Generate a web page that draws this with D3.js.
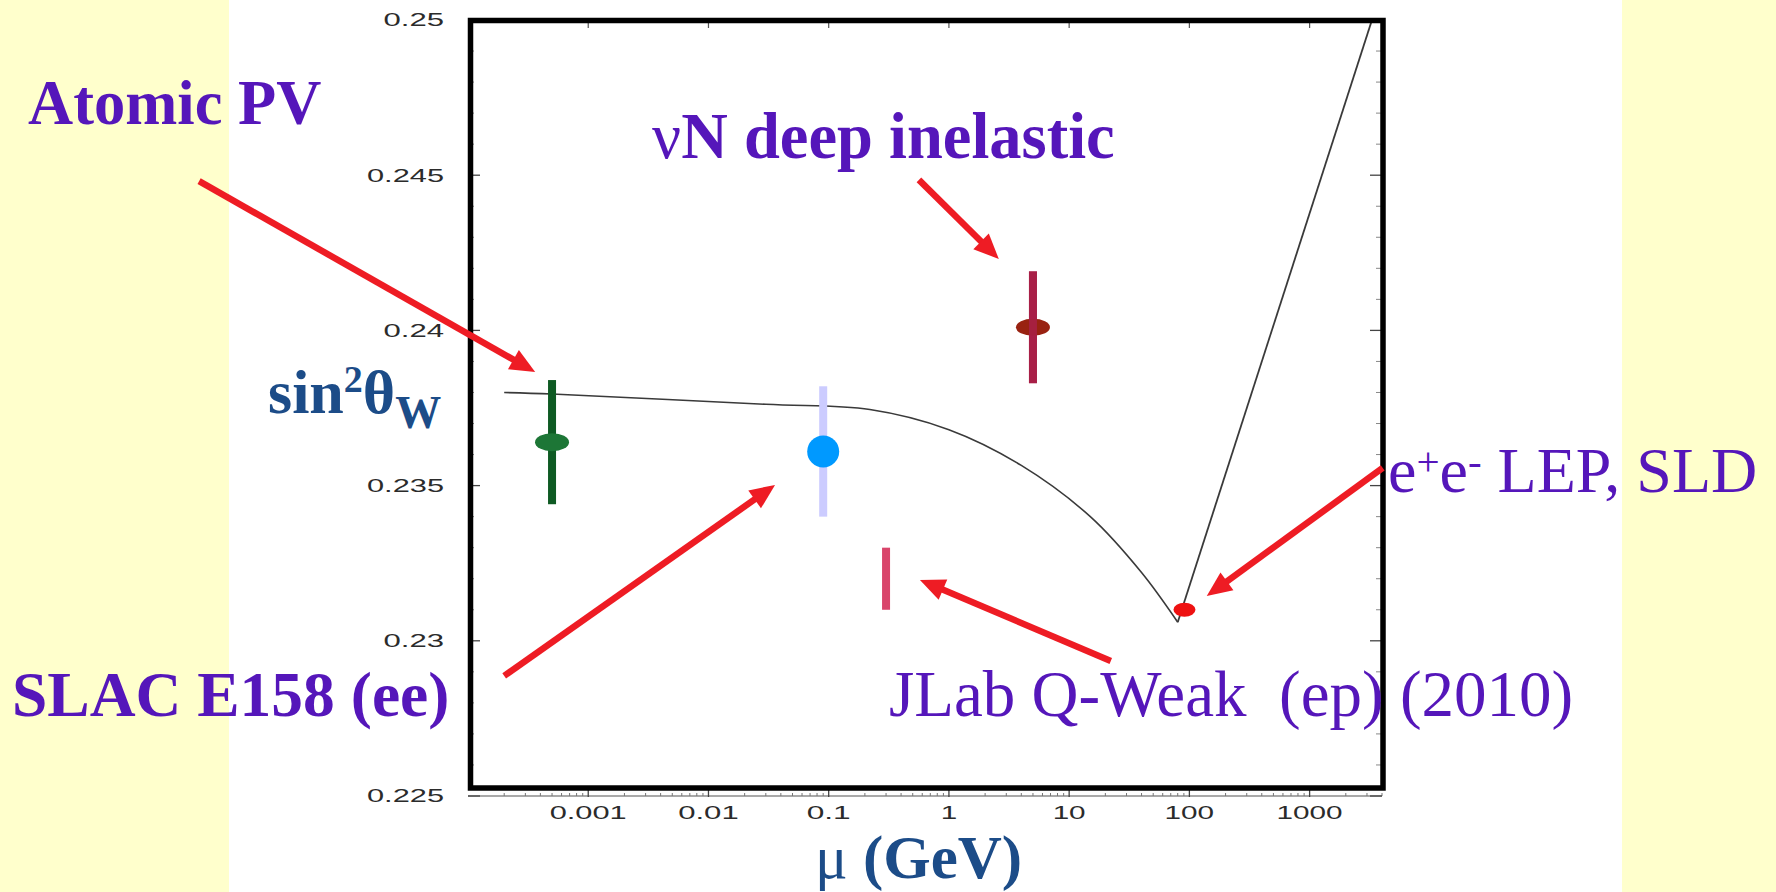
<!DOCTYPE html>
<html>
<head>
<meta charset="utf-8">
<script src="https://cdn.jsdelivr.net/npm/d3@7"></script>
<style>
  html, body { margin: 0; padding: 0; background: #ffffff; }
  svg { display: block; }
</style>
</head>
<body>
<svg id="chart" width="1776" height="892"></svg>
<script>
// ---- data -------------------------------------------------------------
// axis ticks
const muTicks = [0.001, 0.01, 0.1, 1, 10, 100, 1000];
const muTickLabels = ["0.001", "0.01", "0.1", "1", "10", "100", "1000"];
const s2wTicks = [0.225, 0.23, 0.235, 0.24, 0.245, 0.25];
const s2wTickLabels = ["0.225", "0.23", "0.235", "0.24", "0.245", "0.25"];

// running of sin^2(theta_W) with scale mu (GeV)
const runningMu  = [0.0002, 0.0005, 0.03, 0.22, 1, 4, 15, 40, 80];
const runningS2w = [0.23800, 0.23795, 0.23762, 0.23745, 0.2368, 0.23565, 0.2340, 0.2322, 0.2306];
// branch above the Z pole
const highMu  = [80, 3300];
const highS2w = [0.2306, 0.2500];

// measurements
const expNames  = ["Atomic PV", "SLAC E158", "nuN DIS", "Q-Weak", "LEP/SLD"];
const expMu     = [0.0005, 0.09, 5, 0.3, 91];
const expS2w    = [0.2364, 0.2361, 0.2401, 0.2320, 0.2310];
const expErr    = [0.0020, 0.0021, 0.0018, 0.0010, 0];

// annotation arrows: tail and tip in (mu, sin^2) coordinates
const arrowTailMu  = [5.8e-7, 0.563, 2.0e-4, 22.2, 4053];
const arrowTailS2w = [0.24481, 0.24485, 0.22887, 0.22935, 0.23557];
const arrowTipMu   = [3.62e-4, 2.60, 0.0358, 0.574, 139.5];
const arrowTipS2w  = [0.23866, 0.2423, 0.23502, 0.23196, 0.23144];

// ---- layout -----------------------------------------------------------
const svg = d3.select("#chart");
const W = 1776, H = 892;
const xLeft = 468, xRight = 1382, yTop = 20, yBottom = 796;

const x = d3.scaleLog().domain([1e-4, 4000]).range([xLeft, xRight]);
const y = d3.scaleLinear().domain([0.225, 0.25]).range([yBottom, yTop]);

const purple = "#5516BA";
const navy = "#1C4C88";
const arrowRed = "#EE1C24";
const serif = "'Liberation Serif', 'Times New Roman', Times, serif";
const sans = "'Liberation Sans', Arial, Helvetica, sans-serif";

// page background: pale yellow side bands, white centre
svg.append("rect").attr("x", 0).attr("y", 0).attr("width", W).attr("height", H).attr("fill", "#FFFFCC");
svg.append("rect").attr("x", 229).attr("y", 0).attr("width", 1622 - 229).attr("height", H).attr("fill", "#ffffff");

// ---- axes -------------------------------------------------------------
const axisG = svg.append("g");
// bottom axis line with decade ticks and minor ticks
axisG.append("line").attr("x1", xLeft).attr("x2", xRight).attr("y1", yBottom).attr("y2", yBottom)
  .attr("stroke", "#555").attr("stroke-width", 1.2);
const minorMu = [];
for (let e = -4; e <= 3; e++) for (let m = 2; m <= 9; m++) {
  const v = m * Math.pow(10, e);
  if (v <= 4000) minorMu.push(v);
}
axisG.selectAll(".xminor").data(minorMu).join("line")
  .attr("x1", d => x(d)).attr("x2", d => x(d)).attr("y1", yBottom - 3).attr("y2", yBottom)
  .attr("stroke", "#777").attr("stroke-width", 1);
axisG.selectAll(".xmajor").data(muTicks).join("line")
  .attr("x1", d => x(d)).attr("x2", d => x(d)).attr("y1", yBottom - 7).attr("y2", yBottom + 1)
  .attr("stroke", "#444").attr("stroke-width", 1.3);
// top decade ticks
axisG.selectAll(".xtop").data(muTicks).join("line")
  .attr("x1", d => x(d)).attr("x2", d => x(d)).attr("y1", yTop).attr("y2", yTop + 8)
  .attr("stroke", "#555").attr("stroke-width", 1.2);

// left / right ticks
const minorS2w = d3.range(0.226, 0.2495, 0.001).filter(v => Math.abs(v * 200 - Math.round(v * 200)) > 1e-6);
[xLeft, xRight].forEach((xe, i) => {
  const dir = i === 0 ? 1 : -1;
  axisG.selectAll(".ymin" + i).data(minorS2w).join("line")
    .attr("x1", xe).attr("x2", xe + dir * 6).attr("y1", d => y(d)).attr("y2", d => y(d))
    .attr("stroke", "#888").attr("stroke-width", 1);
  axisG.selectAll(".ymaj" + i).data(s2wTicks).join("line")
    .attr("x1", xe).attr("x2", xe + dir * 12).attr("y1", d => y(d)).attr("y2", d => y(d))
    .attr("stroke", "#444").attr("stroke-width", 1.3);
});

// tick label widths: wide, stretched numerals
const labelLen = s => Array.from(s).reduce((a, c) => a + (c === "." ? 11 : 16.5), 0);

axisG.selectAll(".ylab").data(s2wTicks).join("text")
  .attr("x", 444).attr("y", d => y(d)).attr("dy", "0.36em")
  .attr("text-anchor", "end")
  .attr("font-family", sans).attr("font-size", 18).attr("fill", "#2b2b2b")
  .attr("textLength", (d, i) => labelLen(s2wTickLabels[i]))
  .attr("lengthAdjust", "spacingAndGlyphs")
  .text((d, i) => s2wTickLabels[i]);

axisG.selectAll(".xlab").data(muTicks).join("text")
  .attr("x", d => x(d)).attr("y", 819)
  .attr("text-anchor", "middle")
  .attr("font-family", sans).attr("font-size", 18).attr("fill", "#2b2b2b")
  .attr("textLength", (d, i) => labelLen(muTickLabels[i]))
  .attr("lengthAdjust", "spacingAndGlyphs")
  .text((d, i) => muTickLabels[i]);

// ---- curve ------------------------------------------------------------
svg.append("clipPath").attr("id", "plotClip")
  .append("rect").attr("x", 470).attr("y", 21).attr("width", 912).attr("height", 767);
const plot = svg.append("g").attr("clip-path", "url(#plotClip)");

const runLine = d3.line().x(d => x(d[0])).y(d => y(d[1])).curve(d3.curveCatmullRom.alpha(0.5));
plot.append("path")
  .attr("d", runLine(runningMu.map((m, i) => [m, runningS2w[i]])))
  .attr("fill", "none").attr("stroke", "#3a3a3a").attr("stroke-width", 1.6);
const straight = d3.line().x(d => x(d[0])).y(d => y(d[1]));
plot.append("path")
  .attr("d", straight(highMu.map((m, i) => [m, highS2w[i]])))
  .attr("fill", "none").attr("stroke", "#3a3a3a").attr("stroke-width", 1.8);

// ---- measurements -----------------------------------------------------
const barColor    = ["#0E5A23", "#CCCCFF", "#A82048", "#D9456B", null];
const markColor   = ["#1D7636", "#0099FF", "#992211", null, "#EE1111"];
const markRx      = [17, 16, 17, 0, 11];
const markRy      = [9, 16, 8.5, 0, 7];

expMu.forEach((m, i) => {
  if (expErr[i] > 0) {
    plot.append("rect")
      .attr("x", x(m) - 4).attr("width", 8)
      .attr("y", y(expS2w[i] + expErr[i]))
      .attr("height", y(expS2w[i] - expErr[i]) - y(expS2w[i] + expErr[i]))
      .attr("fill", barColor[i]);
  }
  if (markColor[i]) {
    plot.append("ellipse")
      .attr("cx", x(m)).attr("cy", y(expS2w[i]))
      .attr("rx", markRx[i]).attr("ry", markRy[i])
      .attr("fill", markColor[i]);
  }
  if (i === 2) {
    // error bar runs over the marker
    plot.append("rect")
      .attr("x", x(m) - 4).attr("width", 8)
      .attr("y", y(expS2w[i] + expErr[i]))
      .attr("height", y(expS2w[i] - expErr[i]) - y(expS2w[i] + expErr[i]))
      .attr("fill", barColor[i]).attr("opacity", 0.85);
  }
});

// ---- frame ------------------------------------------------------------
svg.append("rect")
  .attr("x", 470.5).attr("y", 20.5).attr("width", 912.5).attr("height", 767.5)
  .attr("fill", "none").attr("stroke", "#000").attr("stroke-width", 5.5);

// ---- arrows -----------------------------------------------------------
const arrowG = svg.append("g");
arrowTipMu.forEach((m, i) => {
  const x0 = x(arrowTailMu[i]), y0 = y(arrowTailS2w[i]);
  const x1 = x(m), y1 = y(arrowTipS2w[i]);
  const len = Math.hypot(x1 - x0, y1 - y0);
  const ux = (x1 - x0) / len, uy = (y1 - y0) / len;
  const nx = -uy, ny = ux;
  const L = 25, Wd = 11;
  arrowG.append("line")
    .attr("x1", x0).attr("y1", y0)
    .attr("x2", x1 - ux * (L - 3)).attr("y2", y1 - uy * (L - 3))
    .attr("stroke", arrowRed).attr("stroke-width", 6.5);
  const bx = x1 - ux * L, by = y1 - uy * L;
  arrowG.append("polygon")
    .attr("points", [[x1, y1], [bx + nx * Wd, by + ny * Wd], [bx - nx * Wd, by - ny * Wd]].map(p => p.join(",")).join(" "))
    .attr("fill", arrowRed);
});

// ---- labels -----------------------------------------------------------
const lab = svg.append("g").attr("font-family", serif);

lab.append("text").attr("x", 28).attr("y", 124)
  .attr("font-size", 62.5).attr("font-weight", "bold").attr("fill", purple)
  .text("Atomic PV");

const nu = lab.append("text").attr("x", 652).attr("y", 158)
  .attr("font-size", 64.5).attr("font-weight", "bold").attr("fill", purple);
nu.append("tspan").attr("font-weight", "normal").text("\u03BD");
nu.append("tspan").text("N deep inelastic");

const s2 = lab.append("text").attr("x", 268).attr("y", 413)
  .attr("font-size", 62).attr("font-weight", "bold").attr("fill", navy);
s2.append("tspan").text("sin");
s2.append("tspan").attr("font-size", 38).attr("dy", -21).text("2");
s2.append("tspan").attr("dy", 21).text("\u03B8");
s2.append("tspan").attr("font-size", 46).attr("dy", 15).text("W");

lab.append("text").attr("x", 12).attr("y", 716)
  .attr("font-size", 63.5).attr("font-weight", "bold").attr("fill", purple)
  .text("SLAC E158 (ee)");

lab.append("text").attr("x", 889).attr("y", 716)
  .attr("font-size", 65).attr("fill", purple)
  .style("white-space", "pre")
  .text("JLab Q-Weak  (ep) (2010)");

const lep = lab.append("text").attr("x", 1388).attr("y", 492)
  .attr("font-size", 64).attr("fill", purple);
lep.append("tspan").text("e");
lep.append("tspan").attr("font-size", 41).attr("dy", -17).text("+");
lep.append("tspan").attr("dy", 17).text("e");
lep.append("tspan").attr("font-size", 41).attr("dy", -17).text("-");
lep.append("tspan").attr("dy", 17).text(" LEP, SLD");

const mu = lab.append("text").attr("x", 815).attr("y", 878)
  .attr("font-size", 61).attr("font-weight", "bold").attr("fill", navy);
mu.append("tspan").attr("font-weight", "normal").text("\u03BC");
mu.append("tspan").text(" (GeV)");
</script>
</body>
</html>
